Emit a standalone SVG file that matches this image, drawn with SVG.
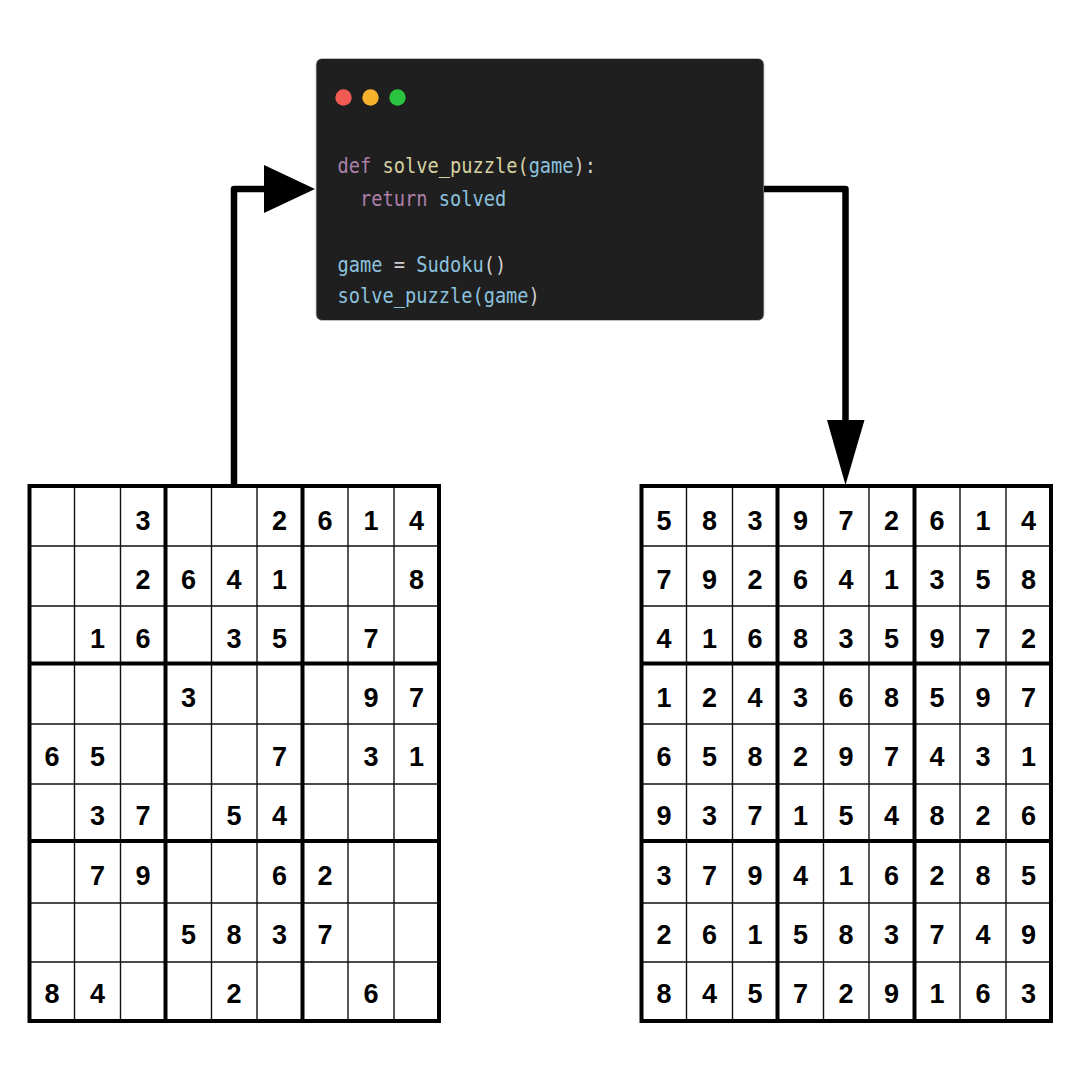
<svg xmlns="http://www.w3.org/2000/svg" xmlns:xlink="http://www.w3.org/1999/xlink" width="1080" height="1080" viewBox="0 0 1080 1080">
  <style>
    .thin { stroke: #111; stroke-width: 1.4; fill: none; }
    .thick { stroke: #000; stroke-width: 4; fill: none; }
    .d { font-family: "Liberation Sans", Arial, sans-serif; font-weight: bold; font-size: 27px; text-anchor: middle; fill: #000; }
    .code { font-family: "DejaVu Sans Mono", "Liberation Mono", monospace; font-size: 21px; }
    .kw { fill: #ad80ab; }
    .fn { fill: #d6d1a0; }
    .id { fill: #8cc2de; }
    .pn { fill: #cfcfcf; }
    .wire { stroke: #000; stroke-width: 6.5; fill: none; stroke-linejoin: round; }
  </style>
  <defs>
    <!-- 9x9 board lines: thin cell lines, thick box lines, outer frame -->
    <g id="board">
      <path class="thin" d="M74.5,486V1021M120.5,486V1021M211.5,486V1021M257,486V1021M348,486V1021M394,486V1021M29.5,546H439M29.5,606H439M29.5,724H439M29.5,784H439M29.5,903H439M29.5,962H439"/>
      <path class="thick" d="M165.5,486V1021M302.5,486V1021M29.5,663.5H439M29.5,841H439"/>
      <rect class="thick" x="29.5" y="486" width="409.5" height="535"/>
    </g>
  </defs>

  <rect width="1080" height="1080" fill="#fff"/>

  <!-- code window -->
  <g id="code-window">
    <rect x="316" y="58.5" width="448" height="262" rx="6" fill="#1f1f1f" stroke="#c8c8c8" stroke-width="0.8"/>
    <circle cx="343.5" cy="97.5" r="8.2" fill="#f25b53"/>
    <circle cx="370.5" cy="97.5" r="8.2" fill="#f6b12d"/>
    <circle cx="397.5" cy="97.5" r="8.2" fill="#2bc33f"/>
    <g class="code" transform="translate(337.5,0) scale(0.89,1)">
      <text y="173.5"><tspan class="kw">def</tspan> <tspan class="fn">solve_puzzle(</tspan><tspan class="id">game</tspan><tspan class="pn">):</tspan></text>
      <text x="25.3" y="206.5"><tspan class="kw">return</tspan> <tspan class="id">solved</tspan></text>
      <text y="272"><tspan class="id">game</tspan> <tspan class="pn">=</tspan> <tspan class="id">Sudoku</tspan><tspan class="pn">()</tspan></text>
      <text y="303.5"><tspan class="id">solve_puzzle(game</tspan><tspan class="pn">)</tspan></text>
    </g>
  </g>

  <!-- connectors -->
  <g id="connectors">
    <path class="wire" d="M234,486V189H268"/>
    <polygon points="264,165 315,189 264,213" fill="#000"/>
    <path class="wire" d="M764,189H845.5V424"/>
    <polygon points="827,420 864.5,420 845.5,485" fill="#000"/>
  </g>

  <!-- unsolved puzzle -->
  <g id="puzzle">
    <use xlink:href="#board"/>
    <g class="d">
      <text x="143" y="529.5">3</text><text x="279.5" y="529.5">2</text><text x="325" y="529.5">6</text><text x="371" y="529.5">1</text><text x="416.5" y="529.5">4</text>
      <text x="143" y="588.5">2</text><text x="188.5" y="588.5">6</text><text x="234" y="588.5">4</text><text x="279.5" y="588.5">1</text><text x="416.5" y="588.5">8</text>
      <text x="97.5" y="647.5">1</text><text x="143" y="647.5">6</text><text x="234" y="647.5">3</text><text x="279.5" y="647.5">5</text><text x="371" y="647.5">7</text>
      <text x="188.5" y="706.5">3</text><text x="371" y="706.5">9</text><text x="416.5" y="706.5">7</text>
      <text x="52" y="765.5">6</text><text x="97.5" y="765.5">5</text><text x="279.5" y="765.5">7</text><text x="371" y="765.5">3</text><text x="416.5" y="765.5">1</text>
      <text x="97.5" y="825">3</text><text x="143" y="825">7</text><text x="234" y="825">5</text><text x="279.5" y="825">4</text>
      <text x="97.5" y="884.5">7</text><text x="143" y="884.5">9</text><text x="279.5" y="884.5">6</text><text x="325" y="884.5">2</text>
      <text x="188.5" y="943.5">5</text><text x="234" y="943.5">8</text><text x="279.5" y="943.5">3</text><text x="325" y="943.5">7</text>
      <text x="52" y="1002.5">8</text><text x="97.5" y="1002.5">4</text><text x="234" y="1002.5">2</text><text x="371" y="1002.5">6</text>
    </g>
  </g>

  <!-- solved puzzle -->
  <g id="solution" transform="translate(612,0)">
    <use xlink:href="#board"/>
    <g class="d">
      <text x="52" y="529.5">5</text><text x="97.5" y="529.5">8</text><text x="143" y="529.5">3</text><text x="188.5" y="529.5">9</text><text x="234" y="529.5">7</text><text x="279.5" y="529.5">2</text><text x="325" y="529.5">6</text><text x="371" y="529.5">1</text><text x="416.5" y="529.5">4</text>
      <text x="52" y="588.5">7</text><text x="97.5" y="588.5">9</text><text x="143" y="588.5">2</text><text x="188.5" y="588.5">6</text><text x="234" y="588.5">4</text><text x="279.5" y="588.5">1</text><text x="325" y="588.5">3</text><text x="371" y="588.5">5</text><text x="416.5" y="588.5">8</text>
      <text x="52" y="647.5">4</text><text x="97.5" y="647.5">1</text><text x="143" y="647.5">6</text><text x="188.5" y="647.5">8</text><text x="234" y="647.5">3</text><text x="279.5" y="647.5">5</text><text x="325" y="647.5">9</text><text x="371" y="647.5">7</text><text x="416.5" y="647.5">2</text>
      <text x="52" y="706.5">1</text><text x="97.5" y="706.5">2</text><text x="143" y="706.5">4</text><text x="188.5" y="706.5">3</text><text x="234" y="706.5">6</text><text x="279.5" y="706.5">8</text><text x="325" y="706.5">5</text><text x="371" y="706.5">9</text><text x="416.5" y="706.5">7</text>
      <text x="52" y="765.5">6</text><text x="97.5" y="765.5">5</text><text x="143" y="765.5">8</text><text x="188.5" y="765.5">2</text><text x="234" y="765.5">9</text><text x="279.5" y="765.5">7</text><text x="325" y="765.5">4</text><text x="371" y="765.5">3</text><text x="416.5" y="765.5">1</text>
      <text x="52" y="825">9</text><text x="97.5" y="825">3</text><text x="143" y="825">7</text><text x="188.5" y="825">1</text><text x="234" y="825">5</text><text x="279.5" y="825">4</text><text x="325" y="825">8</text><text x="371" y="825">2</text><text x="416.5" y="825">6</text>
      <text x="52" y="884.5">3</text><text x="97.5" y="884.5">7</text><text x="143" y="884.5">9</text><text x="188.5" y="884.5">4</text><text x="234" y="884.5">1</text><text x="279.5" y="884.5">6</text><text x="325" y="884.5">2</text><text x="371" y="884.5">8</text><text x="416.5" y="884.5">5</text>
      <text x="52" y="943.5">2</text><text x="97.5" y="943.5">6</text><text x="143" y="943.5">1</text><text x="188.5" y="943.5">5</text><text x="234" y="943.5">8</text><text x="279.5" y="943.5">3</text><text x="325" y="943.5">7</text><text x="371" y="943.5">4</text><text x="416.5" y="943.5">9</text>
      <text x="52" y="1002.5">8</text><text x="97.5" y="1002.5">4</text><text x="143" y="1002.5">5</text><text x="188.5" y="1002.5">7</text><text x="234" y="1002.5">2</text><text x="279.5" y="1002.5">9</text><text x="325" y="1002.5">1</text><text x="371" y="1002.5">6</text><text x="416.5" y="1002.5">3</text>
    </g>
  </g>
</svg>
